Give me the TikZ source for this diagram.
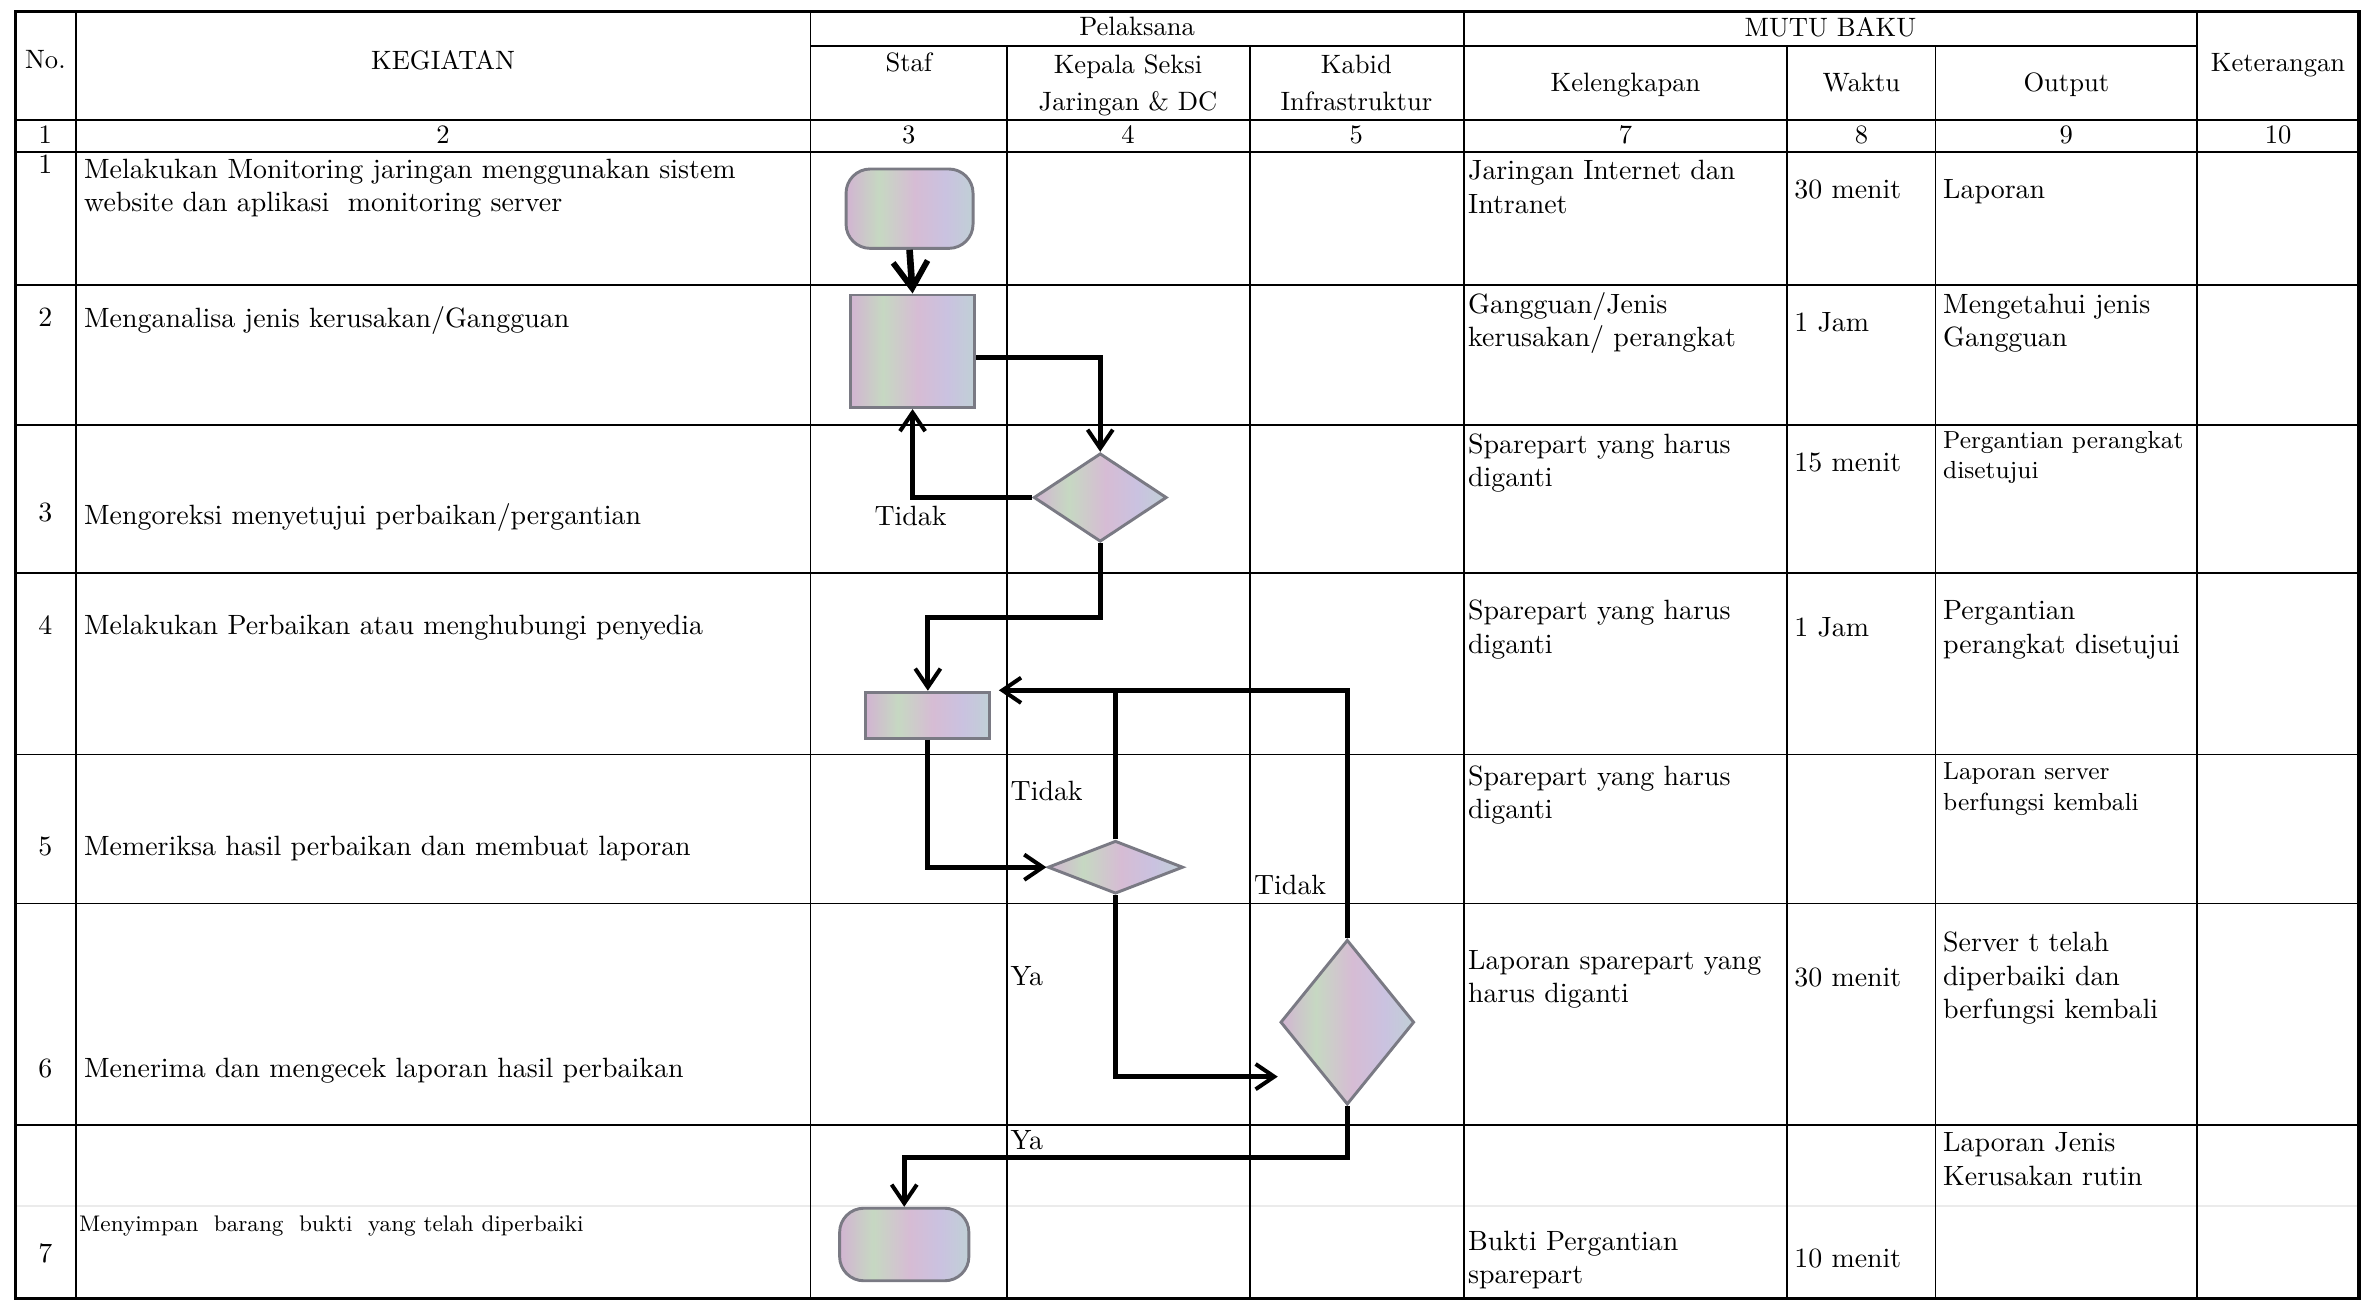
\documentclass[tikz,border=0pt]{standalone}
\usepackage{fontspec}
\usetikzlibrary{arrows.meta,shapes.geometric,shapes.misc}
\definecolor{edge}{RGB}{122,122,132}
\definecolor{irA}{RGB}{210,180,210}
\definecolor{irB}{RGB}{198,216,194}
\definecolor{irC}{RGB}{214,188,212}
\definecolor{irD}{RGB}{202,194,224}
\definecolor{irE}{RGB}{192,208,214}
\pgfdeclarehorizontalshading{iri}{100bp}{color(0bp)=(irA); color(25bp)=(irA); color(38bp)=(irB); color(52bp)=(irC); color(64bp)=(irD); color(75bp)=(irE); color(100bp)=(irE)}
\newcommand\fntA{\fontsize{10.5}{12.5}\selectfont}
\newcommand\fntH{\fontsize{10}{13.8}\selectfont}
\newcommand\fntS{\fontsize{9.3}{11.4}\selectfont}
\newcommand\fntT{\fontsize{8.5}{11}\selectfont\addfontfeature{LetterSpace=5}}
\newcommand\mlines[1]{\begin{tabular}[t]{@{}l@{}}#1\end{tabular}}
\newcommand\clines[1]{\begin{tabular}[t]{@{}c@{}}#1\end{tabular}}
\begin{document}
\begin{tikzpicture}[x=0.02cm,y=-0.02cm,
  inner/.style={line width=0.7pt},
  outer/.style={line width=1.2pt},
  fshape/.style={draw=edge, line width=1.1pt, shading=iri},
  term/.style={fshape, rectangle, rounded corners=0.32cm, inner sep=0},
  proc/.style={fshape, rectangle, inner sep=0},
  dec/.style={fshape, diamond, inner sep=0},
  flow/.style={line width=1.8pt, -{Straight Barb[length=7pt,width=9.5pt,line width=1.5pt]}},
  flowbig/.style={line width=2.5pt, -{Straight Barb[length=10pt,width=13pt,line width=2.2pt]}},
  flowline/.style={line width=1.8pt},
  tx/.style={anchor=base west, inner sep=0, font=\fntA},
  tc/.style={anchor=base, inner sep=0, font=\fntA},
  hd/.style={anchor=base, inner sep=0, font=\fntH},
  sm/.style={anchor=base west, inner sep=0, font=\fntS},
  lbl/.style={anchor=base west, inner sep=0, font=\fntA}
]
\useasboundingbox (0,0) rectangle (1568,860);
\fill[white] (0,0) rectangle (1568,860);

% ---------- table grid ----------
\draw[black!8, line width=0.6pt] (10,797.6) -- (1560,797.6);
\draw[inner] (536,30.5) -- (1453,30.5);
\foreach \yy in {79.5,100.5,188.5,281,379,499,597.5,744}
  \draw[inner] (10,\yy) -- (1560,\yy);
\foreach \xx in {50,536,968,1453}
  \draw[inner] (\xx,7.5) -- (\xx,858.5);
\foreach \xx in {666,826.5,1182,1280}
  \draw[inner] (\xx,30.5) -- (\xx,858.5);
\draw[outer] (10,7.5) rectangle (1560,858.5);

% ---------- header ----------
\node[hd] (hNo) at (30,45.5) {No.};
\node[hd] (hKeg) at (293,46) {KEGIATAN};
\node[hd] (hPel) at (752,23.5) {Pelaksana};
\node[hd] (hMutu) at (1210.5,23.8) {MUTU BAKU};
\node[hd] (hStaf) at (601,47.4) {Staf};
\node[hd] (hKep) at (746,48.5) {\clines{Kepala Seksi\\Jaringan \& DC}};
\node[hd] (hKab) at (897,48.5) {\clines{Kabid\\Infrastruktur}};
\node[hd] (hKel) at (1075,60.6) {Kelengkapan};
\node[hd] (hWak) at (1231,60.6) {Waktu};
\node[hd] (hOut) at (1366.5,60.6) {Output};
\node[hd] (hKet) at (1506.5,47.4) {Keterangan};
\node[hd] (n1) at (30,95) {1};
\node[hd] (n2) at (293,95) {2};
\node[hd] (n3) at (601,95) {3};
\node[hd] (n4) at (746,95) {4};
\node[hd] (n5) at (897,95) {5};
\node[hd] (n7) at (1075,95) {7};
\node[hd] (n8) at (1231,95) {8};
\node[hd] (n9) at (1366.5,95) {9};
\node[hd] (n10) at (1506.5,95) {10};

% ---------- row numbers ----------
\node[tc] (r1) at (30,115) {1};
\node[tc] (r2) at (30,216) {2};
\node[tc] (r3) at (30,345) {3};
\node[tc] (r4) at (30,419.7) {4};
\node[tc] (r5) at (30,566) {5};
\node[tc] (r6) at (30,712.3) {6};
\node[tc] (r7) at (30,835) {7};

% ---------- kegiatan ----------
\node[tx] (k1) at (55.3,118) {\mlines{Melakukan Monitoring jaringan menggunakan sistem\\website dan aplikasi\ \ monitoring server}};
\node[tx] (k2) at (55.3,216.6) {Menganalisa jenis kerusakan/Gangguan};
\node[tx] (k3) at (55.3,346.6) {Mengoreksi menyetujui perbaikan/pergantian};
\node[tx] (k4) at (55.3,419.7) {Melakukan Perbaikan atau menghubungi penyedia};
\node[tx] (k5) at (55.3,566) {Memeriksa hasil perbaikan dan membuat laporan};
\node[tx] (k6) at (55.3,712.3) {Menerima dan mengecek laporan hasil perbaikan};
\node[anchor=base west, inner sep=0, font=\fntT] (k7) at (52,814.3) {Menyimpan\ \ barang\ \ bukti\ \ yang telah diperbaiki};

% ---------- kelengkapan ----------
\node[tx] (l1) at (970.6,119) {\mlines{Jaringan Internet dan\\Intranet}};
\node[tx] (l2) at (970.6,207.2) {\mlines{Gangguan/Jenis\\kerusakan/ perangkat}};
\node[tx] (l3) at (970.6,299.8) {\mlines{Sparepart yang harus\\diganti}};
\node[tx] (l4) at (970.6,410) {\mlines{Sparepart yang harus\\diganti}};
\node[tx] (l5) at (970.6,519.2) {\mlines{Sparepart yang harus\\diganti}};
\node[tx] (l6) at (970.6,641) {\mlines{Laporan sparepart yang\\harus diganti}};
\node[tx] (l7) at (970.6,826.7) {\mlines{Bukti Pergantian\\sparepart}};

% ---------- waktu ----------
\node[tx] (w1) at (1186.3,131) {30 menit};
\node[tx] (w2) at (1186.3,219.4) {1 Jam};
\node[tx] (w3) at (1186.3,312) {15 menit};
\node[tx] (w4) at (1186.3,421) {1 Jam};
\node[tx] (w6) at (1186.3,652.7) {30 menit};
\node[tx] (w7) at (1186.3,838.3) {10 menit};

% ---------- output ----------
\node[tx] (o1) at (1284.7,131) {Laporan};
\node[tx] (o2) at (1284.7,207.2) {\mlines{Mengetahui jenis\\Gangguan}};
\node[sm] (o3) at (1284.7,296.5) {\mlines{Pergantian perangkat\\disetujui}};
\node[tx] (o4) at (1284.7,410) {\mlines{Pergantian\\perangkat disetujui}};
\node[sm] (o5) at (1284.7,515.7) {\mlines{Laporan server\\berfungsi kembali}};
\node[tx] (o6) at (1284.7,629.5) {\mlines{Server t telah\\diperbaiki dan\\berfungsi kembali}};
\node[tx] (o7) at (1284.7,761.8) {\mlines{Laporan Jenis\\Kerusakan rutin}};

% ---------- flowchart shapes ----------
\node[term, minimum width=1.68cm, minimum height=1.05cm] (t1) at (601.5,138) {};
\node[proc, minimum width=1.64cm, minimum height=1.49cm] (p1) at (603.5,232.3) {};
\node[dec, minimum width=1.76cm, minimum height=1.17cm] (d1) at (727.6,329) {};
\node[proc, minimum width=1.64cm, minimum height=0.61cm] (p2) at (613.6,473) {};
\node[dec, minimum width=1.79cm, minimum height=0.70cm] (d2) at (737.7,573.5) {};
\node[dec, minimum width=1.77cm, minimum height=2.18cm] (d3) at (891,676) {};
\node[term, minimum width=1.71cm, minimum height=0.96cm] (t2) at (598,823) {};

% ---------- connectors ----------
\coordinate (k1c) at (727.6,408.4);
\coordinate (c2) at (660.6,456.5);
\coordinate (c3) at (845,712);
\coordinate (k2c) at (891,765.5);
\draw[flowbig] (t1.south) -- (p1.north);
\draw[flow] ([yshift=-0.08cm]p1.east) -| (d1.north);
\draw[flow] (d1.west) -| (p1.south);
\draw[flow] (d1.south) -- (k1c) -| (p2.north);
\draw[flow] (p2.south) |- (d2.west);
\draw[flow] (d3.north) |- (c2);
\draw[flowline] (d2.north) -- (d2.north |- c2);
\draw[flow] (d2.south) |- (c3);
\draw[flow] (d3.south) -- (k2c) -| (t2.north);

% ---------- labels ----------
\node[lbl] (la1) at (578,347.2) {Tidak};
\node[lbl] (la2) at (668,529.5) {Tidak};
\node[lbl] (la3) at (829,591.3) {Tidak};
\node[lbl] (la4) at (668,651.8) {Ya};
\node[lbl] (la5) at (668,760.3) {Ya};
\end{tikzpicture}
\end{document}
